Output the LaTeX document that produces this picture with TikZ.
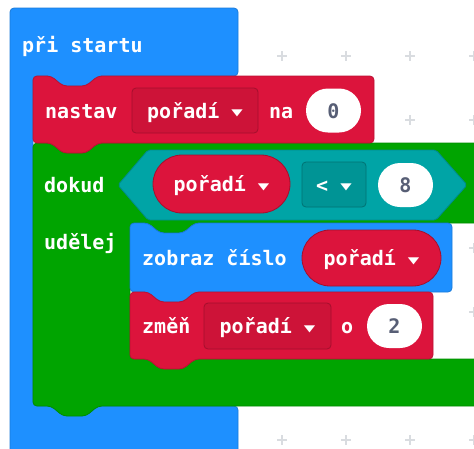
\documentclass[tikz,border=0pt]{standalone}
\usepackage{fontspec}
\setmonofont{DejaVu Sans Mono}
\usetikzlibrary{shapes.misc}

\definecolor{startblue}{HTML}{1E90FF}
\definecolor{varred}{HTML}{DC143C}
\definecolor{loopgreen}{HTML}{00A400}
\definecolor{logicteal}{HTML}{00A4A6}
\definecolor{numgray}{HTML}{575E75}
\definecolor{gridgray}{HTML}{D9DCE0}

\newcommand{\codefont}{\ttfamily\bfseries\fontsize{20}{24}\selectfont}
\newcommand{\dropmark}{\raisebox{1.5pt}{\scalebox{0.95}[0.6]{▼}}}

\tikzset{
  gridcross/.style={draw=gridgray, line width=1.5pt},
  hatblock/.style={fill=startblue, draw=startblue!85!black, line width=0.8pt, rounded corners=4pt},
  loopblock/.style={fill=loopgreen, draw=loopgreen!85!black, line width=0.8pt, rounded corners=4pt},
  varblock/.style={fill=varred, draw=varred!85!black, line width=0.8pt, rounded corners=4pt},
  logicblock/.style={fill=logicteal, draw=logicteal!85!black, line width=0.8pt, rounded corners=2pt},
  blocktext/.style={anchor=base west, inner sep=0pt, text=white, font=\codefont},
  pill/.style={rounded rectangle, inner sep=0pt, text height=15pt, text depth=0pt, font=\codefont},
  varpill/.style={pill, fill=varred, draw=varred!75!black, line width=0.8pt, text=white},
  numpill/.style={pill, fill=white, text=numgray},
  dropbox/.style={rectangle, rounded corners=4pt, inner sep=0pt, text height=15pt, text depth=0pt,
    font=\codefont, text=white, line width=0.8pt},
  vardrop/.style={dropbox, fill=varred!93!black, draw=varred!75!black},
  logicdrop/.style={dropbox, fill=logicteal!90!black, draw=logicteal!70!black}
}

\begin{document}
\begin{tikzpicture}[x=1pt,y=-1pt]
\useasboundingbox (0,0) rectangle (474,448);
\clip (0,0) rectangle (474,448);

% Workspace grid
\foreach \gx in {26,90,...,474}
  \foreach \gy in {56,120,...,440}
    \draw[gridcross] (\gx-5,\gy) -- (\gx+5,\gy) (\gx,\gy-5) -- (\gx,\gy+5);

% Hat block
\draw[hatblock] (10,470) -- (10,8) -- (238,8) -- (238,76) -- (98,76) -- (86,86) -- (63,86)
  -- (51,76) -- (33,76) -- (33,406) -- (238,406) -- (238,470) -- cycle;
\node[blocktext] (start) at (22,52) {při startu};

% Loop block
\draw[loopblock] (33,143) -- (51,143) -- (63,153) -- (86,153) -- (98,143) -- (490,143)
  -- (490,223) -- (195,223) -- (183,233) -- (160,233) -- (148,223) -- (130,223)
  -- (130,359) -- (490,359) -- (490,406) -- (98,406) -- (86,416) -- (63,416)
  -- (51,406) -- (33,406) -- cycle;
\node[blocktext] (dokud) at (44,192) {dokud};
\node[blocktext] (udelej) at (44,249) {udělej};

% Condition
\draw[logicblock] (118,185) -- (148,150) -- (436,150) -- (467,185) -- (436,220) -- (148,220) -- cycle;
\node[varpill, minimum width=137pt, minimum height=58pt] (condvar) at (221.5,184) {pořadí \dropmark};
\node[logicdrop, minimum width=64pt, minimum height=45pt] (condop) at (334,184.5) {< \dropmark};
\node[numpill, minimum width=55pt, minimum height=44pt] (condnum) at (405.5,185) {8};

% Set block
\draw[varblock] (33,76) -- (51,76) -- (63,86) -- (86,86) -- (98,76) -- (374,76) -- (374,143)
  -- (98,143) -- (86,153) -- (63,153) -- (51,143) -- (33,143) -- cycle;
\node[blocktext] (nastav) at (45,118) {nastav};
\node[vardrop, minimum width=126pt, minimum height=45pt] (setvar) at (195,110.5) {pořadí \dropmark};
\node[blocktext] (na) at (269,118) {na};
\node[numpill, minimum width=55pt, minimum height=44pt] (setnum) at (333.5,110.5) {0};

% Show number block
\draw[hatblock] (130,223) -- (148,223) -- (160,233) -- (183,233) -- (195,223) -- (452,223)
  -- (452,292) -- (195,292) -- (183,302) -- (160,302) -- (148,292) -- (130,292) -- cycle;
\node[blocktext] (zobraz) at (142,265) {zobraz číslo};
\node[varpill, minimum width=139pt, minimum height=56pt] (showvar) at (371.5,258) {pořadí \dropmark};

% Change block
\draw[varblock] (130,292) -- (148,292) -- (160,302) -- (183,302) -- (195,292) -- (433,292)
  -- (433,359) -- (195,359) -- (183,369) -- (160,369) -- (148,359) -- (130,359) -- cycle;
\node[blocktext] (zmen) at (142,333) {změň};
\node[vardrop, minimum width=127pt, minimum height=46pt] (chgvar) at (267.5,326) {pořadí \dropmark};
\node[blocktext] (o) at (341,333) {o};
\node[numpill, minimum width=55pt, minimum height=44pt] (chgnum) at (394.5,326) {2};

\end{tikzpicture}
\end{document}
